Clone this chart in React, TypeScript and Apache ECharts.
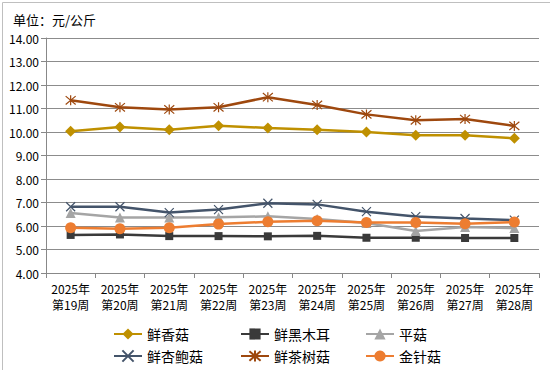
import React, { useEffect, useRef } from "react";
import * as echarts from "echarts";

const weeks = ["第19周", "第20周", "第21周", "第22周", "第23周", "第24周", "第25周", "第26周", "第27周", "第28周"];
const categories = weeks.map((w) => "2025年\n" + w);
const yTicks = { min: 4, max: 14, interval: 1 };

const xiangGu = [10.03, 10.21, 10.1, 10.27, 10.17, 10.1, 10.0, 9.86, 9.86, 9.73];
const heiMuEr = [5.62, 5.64, 5.57, 5.57, 5.56, 5.58, 5.5, 5.5, 5.49, 5.49];
const pingGu = [6.55, 6.36, 6.36, 6.37, 6.41, 6.3, 6.13, 5.79, 5.96, 5.91];
const xingBaoGu = [6.82, 6.82, 6.57, 6.7, 6.97, 6.92, 6.61, 6.4, 6.32, 6.25];
const chaShuGu = [11.35, 11.05, 10.96, 11.05, 11.48, 11.15, 10.75, 10.5, 10.55, 10.26];
const jinZhenGu = [5.93, 5.88, 5.93, 6.08, 6.18, 6.22, 6.15, 6.15, 6.1, 6.17];

const seriesNames = ["鲜香菇", "鲜黑木耳", "平菇", "鲜杏鲍菇", "鲜茶树菇", "金针菇"];
const seriesData = [xiangGu, heiMuEr, pingGu, xingBaoGu, chaShuGu, jinZhenGu];
const colors = ["#BF9000", "#3A3A3A", "#A5A5A5", "#44546A", "#9E480E", "#ED7D31"];
const symbols = [
  "diamond",
  "rect",
  "triangle",
  "path://M0,0L10,10M10,0L0,10",
  "path://M0,0L10,10M10,0L0,10M5,-1L5,11",
  "circle",
];
const symbolSizes = [11, 8, 10, 9, 10, 11];
const legendPos = [
  [113, 327],
  [240, 327],
  [365, 327],
  [113, 349],
  [240, 349],
  [365, 349],
];

const FONT = "'Noto Sans CJK SC', sans-serif";

export default function App() {
  const ref = useRef<HTMLDivElement>(null);
  useEffect(() => {
    if (!ref.current) return;
    const chart = echarts.init(ref.current, undefined, { renderer: "svg" });
    const series = seriesNames.map((name, i) => {
      const isStroke = i === 3 || i === 4;
      return {
        name,
        type: "line",
        data: seriesData[i],
        symbol: symbols[i],
        symbolSize: symbolSizes[i],
        showAllSymbol: true,
        lineStyle: { color: colors[i], width: 2.5 },
        itemStyle: isStroke
          ? { color: colors[i], borderColor: colors[i], borderWidth: 1.2 }
          : { color: colors[i] },
        z: 2 + i,
      };
    });
    chart.setOption({
      animation: false,
      textStyle: { fontFamily: FONT },
      title: {
        text: "单位：元/公斤",
        left: 8,
        top: 8,
        textStyle: { fontSize: 13, fontWeight: "normal", color: "#000", fontFamily: FONT },
      },
      grid: { left: 46, right: 11, top: 38, bottom: 97, containLabel: false },
      legend: seriesNames.map((name, i) => ({
        data: [name],
        left: legendPos[i][0],
        top: legendPos[i][1],
        padding: 0,
        itemWidth: 28,
        itemHeight: 14,
        textStyle: { fontSize: 14, color: "#000", fontFamily: FONT },
      })),
      xAxis: {
        type: "category",
        data: categories,
        boundaryGap: true,
        axisLine: { lineStyle: { color: "#888", width: 1 } },
        axisTick: { show: true, length: 5, lineStyle: { color: "#888" } },
        axisLabel: { color: "#000", fontSize: 12, lineHeight: 16, margin: 7, interval: 0, fontFamily: FONT },
      },
      yAxis: {
        type: "value",
        min: yTicks.min,
        max: yTicks.max,
        interval: yTicks.interval,
        axisLine: { show: true, lineStyle: { color: "#888", width: 1 } },
        axisTick: { show: true, length: 5, lineStyle: { color: "#888" } },
        splitLine: { show: true, lineStyle: { color: "#8c8c8c", width: 1 } },
        axisLabel: {
          color: "#000",
          fontSize: 12,
          margin: 7,
          fontFamily: FONT,
          formatter: (v: number) => v.toFixed(2),
        },
      },
      graphic: [
        {
          type: "rect",
          left: 0,
          top: 0,
          shape: { x: 0.5, y: 0.5, width: 548, height: 368 },
          style: { fill: "none", stroke: "#bfbfbf", lineWidth: 1 },
          silent: true,
        },
      ],
      series,
    });
    return () => chart.dispose();
  }, []);
  return (
    <div
      ref={ref}
      style={{ position: "fixed", left: 0, top: 0, width: 550, height: 370, background: "#fff" }}
    />
  );
}
